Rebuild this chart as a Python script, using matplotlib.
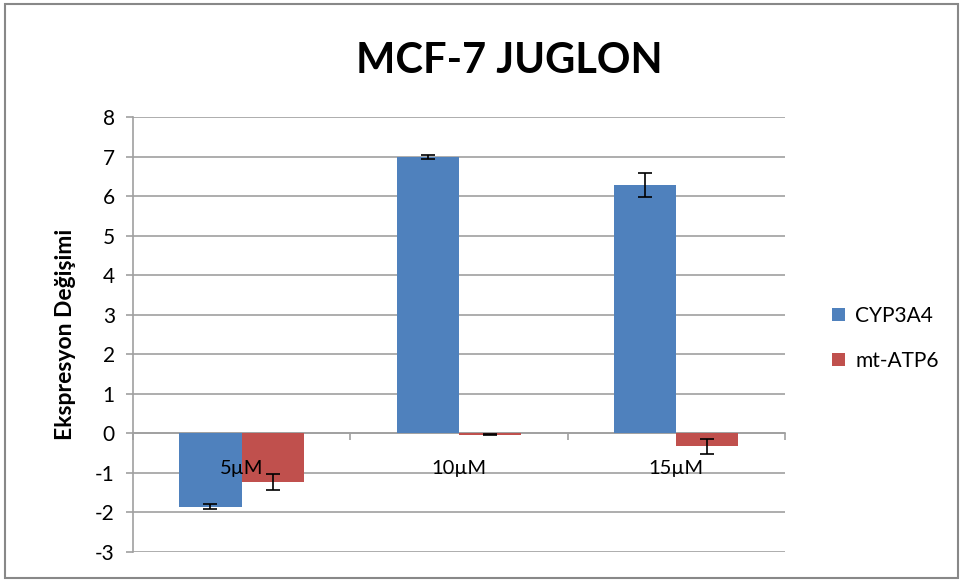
import numpy as np
import matplotlib.pyplot as plt
from matplotlib.patches import Rectangle

# ============================================================
# DATA
# ============================================================
categorias = ["5µM", "10µM", "15µM"]
cyp3a4 = [-1.85, 7.00, 6.28]
cyp3a4_err = [0.06, 0.05, 0.30]
mt_atp6 = [-1.22, -0.03, -0.33]
mt_atp6_err = [0.20, 0.01, 0.19]
yticks = list(range(-3, 9))

plt.rcParams['font.family'] = ['Lato', 'DejaVu Sans']
plt.rcParams['axes.unicode_minus'] = False

fig = plt.figure(figsize=(9.63, 5.83), dpi=100)
ax = fig.add_axes([0.138, 0.0532, 0.677, 0.746])

x = np.arange(len(categorias))
w = 0.286
ek = dict(ecolor="black", capsize=5, elinewidth=1.2, capthick=1.2)
ax.bar(x - w / 2, cyp3a4, w, color="#4f81bd", label="CYP3A4", yerr=cyp3a4_err, error_kw=ek, zorder=3)
ax.bar(x + w / 2, mt_atp6, w, color="#c0504d", label="mt-ATP6", yerr=mt_atp6_err, error_kw=ek, zorder=3)

ax.set_xlim(-0.5, 2.5)
ax.set_ylim(-3, 8)
ax.set_yticks(yticks)
ax.yaxis.grid(True, color="#a0a0a0", linewidth=1.2, zorder=0)
ax.set_axisbelow(True)

for s in ["top", "right"]:
    ax.spines[s].set_visible(False)
ax.spines["left"].set_color("#a0a0a0")
ax.spines["left"].set_linewidth(1.2)
ax.spines["bottom"].set_position(("data", 0))
ax.spines["bottom"].set_color("#a0a0a0")
ax.spines["bottom"].set_linewidth(1.2)

# rotulos das categorias por cima das barras (como no Excel)
ax.set_xticks(x)
ax.set_xticklabels([])
for xi, nome in zip(x, categorias):
    ax.annotate(nome, (xi, 0), xytext=(0, -25), textcoords="offset points",
                ha="center", va="center", fontsize=14.5, zorder=6)
ax.set_xticks([-0.5, 0.5, 1.5, 2.5], minor=True)
ax.tick_params(axis="x", which="major", length=0)
ax.tick_params(axis="x", which="minor", length=5, color="#a0a0a0", width=1.2)
ax.tick_params(axis="y", length=5, color="#a0a0a0", width=1.2, labelsize=15, pad=8)

ax.set_ylabel("Ekspresyon Değişimi", fontsize=16.5, fontweight="bold", labelpad=14)

fig.text(0.529, 0.895, "MCF-7 JUGLON", ha="center", va="center", fontsize=30, fontweight="bold")

fig.legend(loc="center left", bbox_to_anchor=(0.845, 0.42), frameon=False,
           fontsize=15, labelspacing=1.2, handlelength=0.6, handleheight=0.6, handletextpad=0.5)

fig.patches.append(Rectangle((0.005, 0.008), 0.99, 0.985, transform=fig.transFigure,
                             fill=False, edgecolor="#888888", linewidth=1.5))

fig.savefig("out.png", dpi=100)
